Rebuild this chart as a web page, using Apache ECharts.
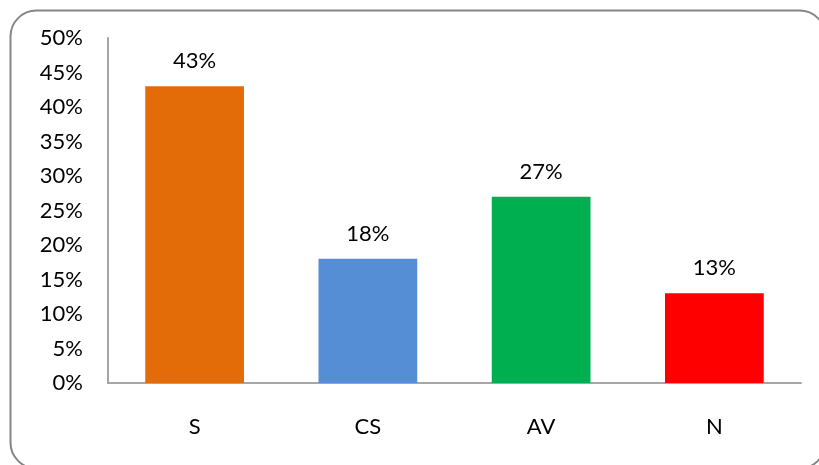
<!DOCTYPE html>
<html><head><meta charset="utf-8">
<script src="https://cdn.jsdelivr.net/npm/echarts@6/dist/echarts.min.js"></script>
<style>html,body{margin:0;padding:0;background:#fff}#c{width:819px;height:465px}</style>
</head><body><div id="c"></div>
<script>
const categories = ['S', 'CS', 'AV', 'N'];
const values = [43, 18, 27, 13];
const barColors = ['#E36C09', '#558ED5', '#00B050', '#FF0000'];
const yTicks = [0, 5, 10, 15, 20, 25, 30, 35, 40, 45, 50];

const chart = echarts.init(document.getElementById('c'));
const font = 'Lato, sans-serif';
chart.setOption({
  animation: false,
  graphic: [{
    type: 'rect', left: 8, top: 8,
    shape: { width: 815, height: 458, r: 26 },
    style: { fill: 'none', stroke: '#868686', lineWidth: 2 }, z: -1
  }],
  grid: { left: 108, right: 18, top: 38, bottom: 82 },
  xAxis: {
    type: 'category', data: categories,
    axisLine: { lineStyle: { color: '#a6a6a6', width: 2 } },
    axisTick: { show: false },
    axisLabel: { color: '#000', fontSize: 22, fontFamily: font, margin: 33 }
  },
  yAxis: {
    type: 'value', min: yTicks[0], max: yTicks[yTicks.length - 1], interval: 5,
    axisLine: { show: true, lineStyle: { color: '#a6a6a6', width: 2 } },
    axisTick: { show: false },
    splitLine: { show: false },
    axisLabel: { color: '#000', fontSize: 22, fontFamily: font, margin: 25, formatter: v => v + '%' }
  },
  series: [{
    type: 'bar', barWidth: '57%',
    data: values.map((v, i) => ({ value: v, itemStyle: { color: barColors[i] } })),
    label: { show: true, position: 'top', distance: 14, color: '#000', fontSize: 22, fontFamily: font, formatter: p => p.value + '%' }
  }]
});
</script></body></html>
